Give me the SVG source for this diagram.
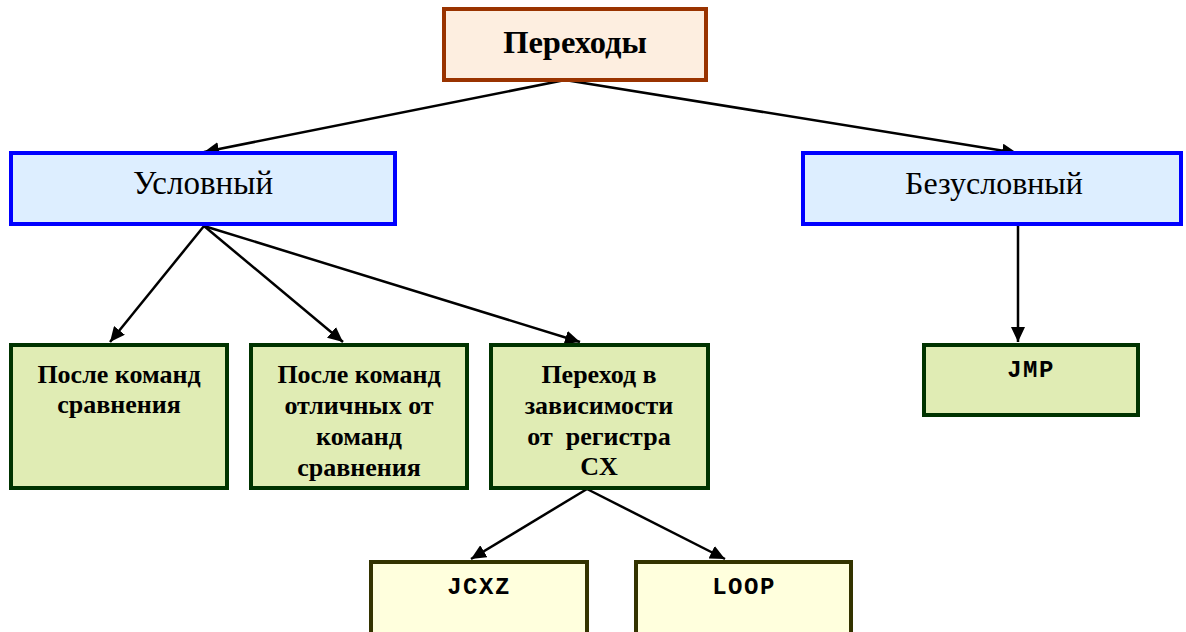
<svg xmlns="http://www.w3.org/2000/svg" width="1186" height="632" viewBox="0 0 1186 632">
<style>
.top{fill:#fdeee0;stroke:#993300;stroke-width:4}
.mid{fill:#ddeeff;stroke:#0000ff;stroke-width:4}
.grn{fill:#e0ecb4;stroke:#003300;stroke-width:4}
.yel{fill:#ffffdd;stroke:#333300;stroke-width:4}
.t{font-family:"Liberation Serif",serif;text-anchor:middle;fill:#000}
.b{font-weight:bold}
.g{font-weight:bold;font-size:26px}
.m{font-family:"Liberation Mono",monospace;font-weight:bold;text-anchor:middle;font-size:24px;letter-spacing:1.5px;fill:#000}
.c{stroke:#000;stroke-width:2.5;fill:none;marker-end:url(#ah)}
</style>
<defs>
<marker id="ah" markerUnits="userSpaceOnUse" markerWidth="16" markerHeight="14" refX="15" refY="7" orient="auto">
<path d="M0,0 L15,7 L0,14 z" fill="#000"/>
</marker>
</defs>
<rect width="1186" height="632" fill="#fff"/>
<g id="connectors">
<line class="c" x1="565" y1="80" x2="204" y2="152"/>
<line class="c" x1="565" y1="80" x2="1017" y2="153"/>
<line class="c" x1="204" y1="226" x2="110" y2="342"/>
<line class="c" x1="204" y1="226" x2="343" y2="342"/>
<line class="c" x1="204" y1="226" x2="580" y2="342"/>
<line class="c" x1="1018" y1="226" x2="1018" y2="342"/>
<line class="c" x1="587" y1="489" x2="471" y2="559"/>
<line class="c" x1="587" y1="489" x2="725" y2="559"/>
</g>
<g id="n-perehody">
<rect class="top" x="444" y="9" width="262" height="71"/>
<text class="t b" x="575" y="53" font-size="32.5">Переходы</text>
</g>
<g id="n-uslovny">
<rect class="mid" x="11" y="153" width="384" height="71"/>
<text class="t" x="203" y="194" font-size="33">Условный</text>
</g>
<g id="n-bezuslovny">
<rect class="mid" x="803" y="153" width="378" height="71"/>
<text class="t" x="994" y="194" font-size="32">Безусловный</text>
</g>
<g id="n-sravn">
<rect class="grn" x="11" y="345" width="216" height="143"/>
<text class="t g" x="119" y="383">После команд</text>
<text class="t g" x="119" y="413">сравнения</text>
</g>
<g id="n-otlich">
<rect class="grn" x="251" y="345" width="216" height="143"/>
<text class="t g" x="359" y="383">После команд</text>
<text class="t g" x="359" y="414">отличных от</text>
<text class="t g" x="359" y="445">команд</text>
<text class="t g" x="359" y="476">сравнения</text>
</g>
<g id="n-cx">
<rect class="grn" x="491" y="345" width="217" height="143"/>
<text class="t g" x="599" y="383">Переход в</text>
<text class="t g" x="599" y="414">зависимости</text>
<text class="t g" x="599" y="445" xml:space="preserve">от  регистра</text>
<text class="t g" x="599" y="475">CX</text>
</g>
<g id="n-jmp">
<rect class="grn" x="924" y="345" width="214" height="70"/>
<text class="m" x="1031" y="377">JMP</text>
</g>
<g id="n-jcxz">
<rect class="yel" x="371" y="562" width="216" height="76"/>
<text class="m" x="479" y="594">JCXZ</text>
</g>
<g id="n-loop">
<rect class="yel" x="636" y="562" width="215" height="76"/>
<text class="m" x="744" y="594">LOOP</text>
</g>
</svg>
